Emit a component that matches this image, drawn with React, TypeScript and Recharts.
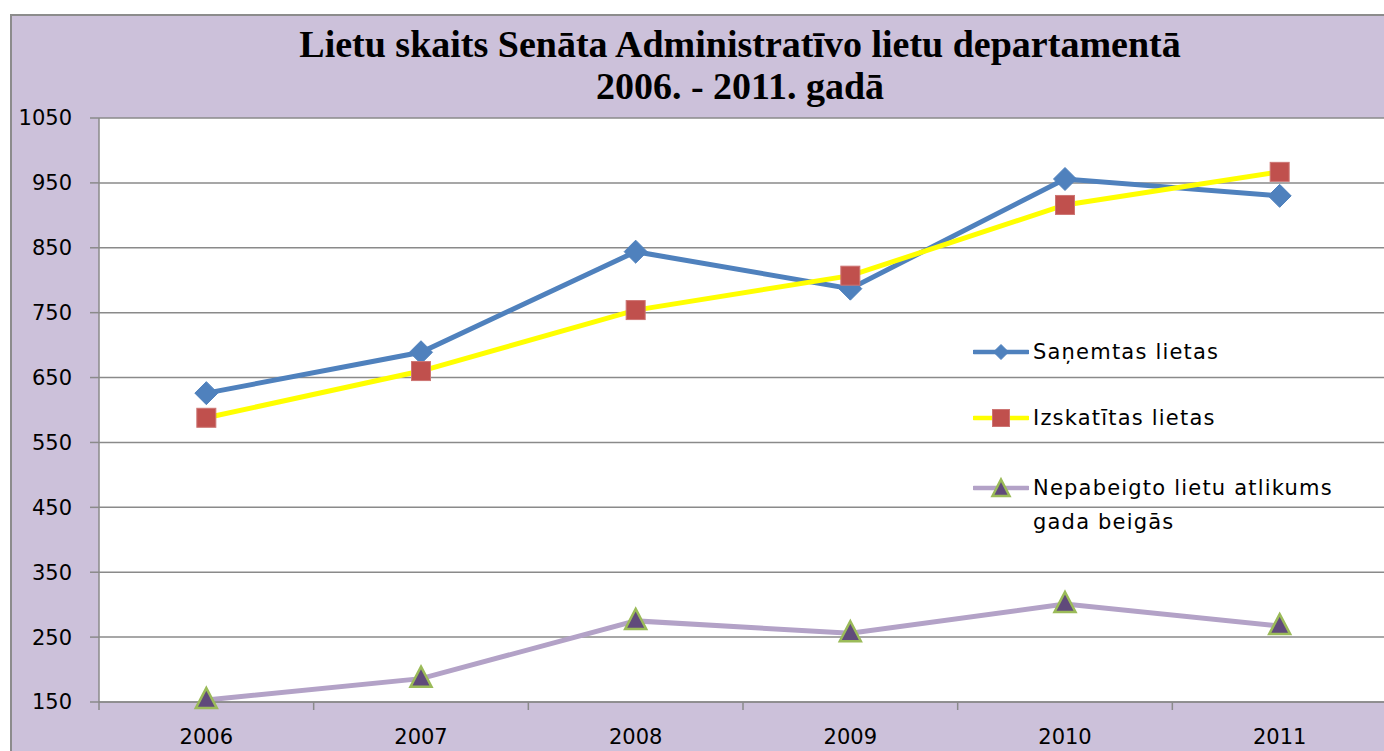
import React from "react";
import { LineChart, Line, XAxis, YAxis, CartesianGrid, Legend } from "recharts";

const years = ["2006", "2007", "2008", "2009", "2010", "2011"];
const received = [626, 689, 844, 787, 956, 930];
const reviewed = [588, 660, 754, 807, 916, 967];
const pending = [153, 186, 275, 256, 301, 267];
const yTicks = [150, 250, 350, 450, 550, 650, 750, 850, 950, 1050];

const seriesKeys = ["received", "reviewed", "pending"];
const seriesNames = {
  received: "Saņemtas lietas",
  reviewed: "Izskatītas lietas",
  pending: "Nepabeigto lietu atlikums gada beigās",
};

const data = years.map((y, i) => ({
  year: y,
  received: received[i],
  reviewed: reviewed[i],
  pending: pending[i],
}));

const CHART_W = 1400;
const CHART_H = 780;
const MARGIN = { top: 118, right: 13, left: 19, bottom: 38 };
const Y_W = 80;
const PLOT_W = CHART_W - MARGIN.left - Y_W - MARGIN.right;
const HALF_BAND = PLOT_W / years.length / 2;

const SANS = "'DejaVu Sans', sans-serif";
const BLUE = "#4F81BD";
const YELLOW = "#FFFF00";
const RED = "#C0504D";
const LILAC = "#B3A2C7";
const PURPLE = "#604A7B";
const GREEN = "#9BBB59";
const GRID = "#8A8A8A";

const Diamond = ({ cx, cy, r = 11.5 }: any) => (
  <path
    d={`M${cx},${cy - r}L${cx + r},${cy}L${cx},${cy + r}L${cx - r},${cy}Z`}
    fill={BLUE}
    stroke={BLUE}
    strokeWidth={1}
  />
);
const Square = ({ cx, cy, s = 9.5 }: any) => (
  <rect x={cx - s} y={cy - s} width={2 * s} height={2 * s} fill={RED} stroke="#CD7573" strokeWidth={1} />
);
const Triangle = ({ cx, cy, w = 10.5, up = 12, down = 8 }: any) => (
  <path
    d={`M${cx},${cy - up}L${cx + w},${cy + down}L${cx - w},${cy + down}Z`}
    fill={PURPLE}
    stroke={GREEN}
    strokeWidth={2.5}
    strokeLinejoin="miter"
  />
);

const renderDot = (Shape: any) => (props: any) => {
  const { cx, cy, index } = props;
  if (cx == null || cy == null) return <g key={index} />;
  return (
    <g key={index}>
      <Shape cx={cx} cy={cy} />
    </g>
  );
};

const XTick = (props: any) => {
  const { x, y, payload, index } = props;
  const axisY = y - 12;
  return (
    <g>
      <line x1={x - HALF_BAND} y1={axisY} x2={x - HALF_BAND} y2={axisY + 8} stroke={GRID} strokeWidth={1.5} />
      {index === years.length - 1 && (
        <line x1={x + HALF_BAND} y1={axisY} x2={x + HALF_BAND} y2={axisY + 8} stroke={GRID} strokeWidth={1.5} />
      )}
      <text x={x} y={axisY + 35} textAnchor="middle" dominantBaseline="central" fontFamily={SANS} fontSize={21} fill="#000">
        {payload.value}
      </text>
    </g>
  );
};

const iconFor = (key: string) => {
  if (key === "received")
    return (
      <svg width={56} height={34}>
        <line x1={1} y1={17} x2={55} y2={17} stroke={BLUE} strokeWidth={4.5} strokeLinecap="round" />
        <Diamond cx={28} cy={17} r={7.5} />
      </svg>
    );
  if (key === "reviewed")
    return (
      <svg width={56} height={34}>
        <line x1={1} y1={17} x2={55} y2={17} stroke={YELLOW} strokeWidth={4.5} strokeLinecap="round" />
        <Square cx={28} cy={17} s={8.5} />
      </svg>
    );
  return (
    <svg width={56} height={34}>
      <line x1={1} y1={17} x2={55} y2={17} stroke={LILAC} strokeWidth={4.5} strokeLinecap="round" />
      <Triangle cx={28} cy={17} w={8.5} up={8.5} down={8} />
    </svg>
  );
};

const LegendContent = (props: any) => {
  const payload = [...(props.payload || [])].sort(
    (a: any, b: any) => seriesKeys.indexOf(a.dataKey) - seriesKeys.indexOf(b.dataKey)
  );
  const gaps = [32, 36, 0];
  return (
    <div style={{ width: 400 }}>
      {payload.map((item: any, i: number) => (
        <div key={item.dataKey} style={{ display: "flex", alignItems: "flex-start", marginBottom: gaps[i] }}>
          {iconFor(item.dataKey)}
          <div
            style={{
              marginLeft: 4,
              width: 320,
              fontFamily: SANS,
              fontSize: 21,
              lineHeight: "34px",
              letterSpacing: 1.2,
              color: "#000",
            }}
          >
            {item.value}
          </div>
        </div>
      ))}
    </div>
  );
};

export default function App() {
  return (
    <div style={{ position: "fixed", left: 0, top: 0, width: 1384, height: 751, overflow: "hidden", background: "#fff" }}>
      <div
        style={{
          position: "absolute",
          left: 10,
          top: 14,
          width: 1500,
          height: 800,
          background: "#CCC1DA",
          border: "2px solid #8C8C8C",
          boxSizing: "border-box",
        }}
      />
      <div
        style={{
          position: "absolute",
          left: 240,
          top: 23,
          width: 1000,
          textAlign: "center",
          fontFamily: "'Liberation Serif', 'Times New Roman', serif",
          fontWeight: "bold",
          fontSize: 38,
          lineHeight: "42px",
          color: "#000",
        }}
      >
        <div>Lietu skaits Senāta Administratīvo lietu departamentā</div>
        <div>2006. - 2011. gadā</div>
      </div>
      <div style={{ position: "absolute", left: 0, top: 0 }}>
        <LineChart width={CHART_W} height={CHART_H} data={data} margin={MARGIN}>
          <CartesianGrid vertical={false} stroke={GRID} strokeWidth={1.5} fill="#fff" />
          <XAxis
            dataKey="year"
            scale="band"
            height={40}
            axisLine={{ stroke: GRID, strokeWidth: 1.5 }}
            tickLine={false}
            tickSize={0}
            tickMargin={12}
            tick={<XTick />}
            interval={0}
          />
          <YAxis
            width={Y_W}
            domain={[150, 1050]}
            ticks={yTicks}
            interval={0}
            axisLine={{ stroke: GRID, strokeWidth: 1.5 }}
            tickLine={{ stroke: GRID, strokeWidth: 1.5 }}
            tickSize={9}
            tickMargin={18}
            tick={{ fontFamily: SANS, fontSize: 21, fill: "#000" }}
          />
          <Legend
            verticalAlign="middle"
            align="center"
            layout="horizontal"
            content={<LegendContent />}
            wrapperStyle={{ position: "absolute", left: 973, top: 335, width: 400, height: 230 }}
          />
          <Line
            dataKey="received"
            name={seriesNames.received}
            stroke={BLUE}
            strokeWidth={5}
            dot={renderDot(Diamond)}
            isAnimationActive={false}
          />
          <Line
            dataKey="reviewed"
            name={seriesNames.reviewed}
            stroke={YELLOW}
            strokeWidth={5}
            dot={renderDot(Square)}
            isAnimationActive={false}
          />
          <Line
            dataKey="pending"
            name={seriesNames.pending}
            stroke={LILAC}
            strokeWidth={5}
            dot={renderDot(Triangle)}
            isAnimationActive={false}
          />
        </LineChart>
      </div>
    </div>
  );
}
